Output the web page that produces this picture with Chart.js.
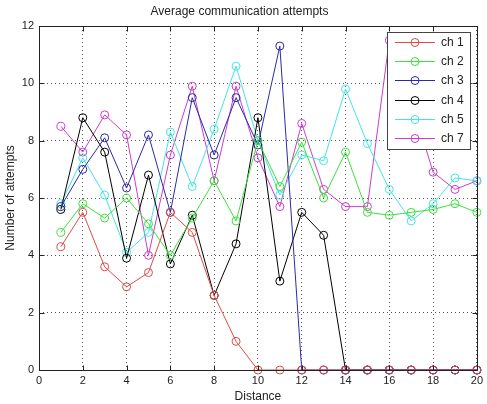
<!DOCTYPE html>
<html>
<head>
<meta charset="utf-8">
<script src="https://cdn.jsdelivr.net/npm/chart.js@4"></script>
<style>
  body { margin: 0; background: #fff; }
  canvas { display: block; }
</style>
</head>
<body>
<canvas id="chart" width="487" height="404"></canvas>
<script>
// values
const distance = [1, 2, 3, 4, 5, 6, 7, 8, 9, 10, 11, 12, 13, 14, 15, 16, 17, 18, 19, 20];
const ch1 = [4.3, 5.5, 3.6, 2.9, 3.4, 5.5, 4.8, 2.6, 1.0, 0, 0, 0, 0, 0, 0, 0, 0, 0, 0, 0];
const ch2 = [4.8, 5.8, 5.3, 6.0, 5.1, 4.0, 5.3, 6.6, 5.2, 8.0, 6.4, 7.95, 6.0, 7.6, 5.5, 5.4, 5.5, 5.6, 5.8, 5.5];
const ch3 = [5.7, 7.0, 8.1, 6.35, 8.2, 5.5, 9.5, 7.5, 9.5, 7.85, 11.3, 0, 0, 0, 0, 0, 0, 0, 0, 0];
const ch4 = [5.6, 8.8, 7.6, 3.9, 6.8, 3.7, 5.4, 2.6, 4.4, 8.8, 3.1, 5.5, 4.7, 0, 0, 0, 0, 0, 0, 0];
const ch5 = [5.8, 7.4, 6.1, 4.1, 4.8, 8.3, 6.4, 8.4, 10.6, 8.0, 6.1, 7.5, 7.3, 9.8, 7.9, 6.3, 5.2, 5.8, 6.7, 6.6];
const ch7 = [8.5, 7.6, 8.9, 8.2, 4.0, 7.5, 9.9, 6.6, 9.9, 7.4, 5.7, 8.6, 6.3, 5.7, 5.7, 11.5, 9.4, 6.9, 6.3, 6.6];

const seriesNames = ['ch 1', 'ch 2', 'ch 3', 'ch 4', 'ch 5', 'ch 7'];
const seriesValues = [ch1, ch2, ch3, ch4, ch5, ch7];
const seriesColors = ['#dd4a4a', '#3ee03e', '#2a2aa8', '#000000', '#44e4e4', '#cc3ccc'];

const xTicks = [0, 2, 4, 6, 8, 10, 12, 14, 16, 18, 20];
const yTicks = [0, 2, 4, 6, 8, 10, 12];

const FONT = '"Liberation Sans", Arial, sans-serif';

// frame with inward ticks + legend inside the plot (matlab style)
const matlabFrame = {
    id: 'matlabFrame',
    afterDatasetsDraw(chart) {
        const ctx = chart.ctx;
        const a = chart.chartArea;
        const x = chart.scales.x, y = chart.scales.y;
        const L = Math.round(a.left) + 0.5, R = Math.round(a.right) + 0.5;
        const T = Math.round(a.top) + 0.5, B = Math.round(a.bottom) + 0.5;
        ctx.save();
        ctx.strokeStyle = '#222';
        ctx.lineWidth = 1;
        ctx.strokeRect(L, T, R - L, B - T);
        ctx.beginPath();
        xTicks.forEach(v => {
            const px = Math.round(x.getPixelForValue(v)) + 0.5;
            ctx.moveTo(px, B); ctx.lineTo(px, B - 5);
            ctx.moveTo(px, T); ctx.lineTo(px, T + 5);
        });
        yTicks.forEach(v => {
            const py = Math.round(y.getPixelForValue(v)) + 0.5;
            ctx.moveTo(L, py); ctx.lineTo(L + 5, py);
            ctx.moveTo(R, py); ctx.lineTo(R - 5, py);
        });
        ctx.stroke();
        ctx.restore();
    },
    afterDraw(chart) {
        const ctx = chart.ctx;
        const box = { left: 387.5, top: 32.5, width: 83, height: 117 };
        ctx.save();
        ctx.fillStyle = '#fff';
        ctx.fillRect(box.left, box.top, box.width, box.height);
        ctx.strokeStyle = '#444';
        ctx.lineWidth = 1;
        ctx.strokeRect(box.left, box.top, box.width, box.height);
        ctx.font = '12px ' + FONT;
        ctx.textBaseline = 'middle';
        chart.data.datasets.forEach((ds, i) => {
            const rowY = Math.round(42 + i * 19.2) + 0.5;
            ctx.strokeStyle = ds.borderColor;
            ctx.beginPath();
            ctx.moveTo(395, rowY); ctx.lineTo(435, rowY);
            ctx.stroke();
            ctx.beginPath();
            ctx.arc(415, rowY, 4, 0, Math.PI * 2);
            ctx.stroke();
            ctx.fillStyle = '#222';
            ctx.fillText(ds.label, 441, rowY);
        });
        ctx.restore();
    }
};

const datasets = seriesNames.map((name, i) => ({
    label: name,
    data: distance.map((d, j) => ({ x: d, y: seriesValues[i][j] })),
    borderColor: seriesColors[i],
    backgroundColor: 'rgba(0,0,0,0)',
    pointBorderColor: seriesColors[i],
    pointBackgroundColor: 'rgba(0,0,0,0)',
    borderWidth: 1,
    pointRadius: 4,
    pointBorderWidth: 1,
    tension: 0,
    clip: false
}));

const ctx = document.getElementById('chart').getContext('2d');
new Chart(ctx, {
    type: 'line',
    data: { datasets: datasets },
    options: {
        responsive: false,
        animation: false,
        devicePixelRatio: 1,
        layout: { padding: { left: 0, right: 8, top: 0, bottom: 0 } },
        plugins: {
            legend: { display: false },
            tooltip: { enabled: false },
            title: {
                display: true,
                text: 'Average communication attempts',
                color: '#222',
                font: { family: FONT, size: 12, weight: 'normal' },
                padding: { top: 4, bottom: 7.6 }
            }
        },
        scales: {
            x: {
                type: 'linear',
                min: 0,
                max: 20,
                afterBuildTicks: s => { s.ticks = xTicks.map(v => ({ value: v })); },
                afterFit: s => { s.height = 34; },
                ticks: { color: '#222', font: { family: FONT, size: 11 }, padding: 4, maxRotation: 0 },
                grid: { color: '#555', drawTicks: false },
                border: { display: false, dash: [1, 3] },
                title: {
                    display: true,
                    text: 'Distance',
                    color: '#222',
                    font: { family: FONT, size: 12 },
                    padding: { top: 0, bottom: 0 }
                }
            },
            y: {
                min: 0,
                max: 12,
                afterBuildTicks: s => { s.ticks = yTicks.map(v => ({ value: v })); },
                afterFit: s => { s.width = 39; },
                ticks: { color: '#222', font: { family: FONT, size: 11 }, padding: 5 },
                grid: { color: '#555', drawTicks: false },
                border: { display: false, dash: [1, 3] },
                title: {
                    display: true,
                    text: 'Number of attempts',
                    color: '#222',
                    font: { family: FONT, size: 12 },
                    padding: { top: 3, bottom: 0 }
                }
            }
        }
    },
    plugins: [matlabFrame]
});
</script>
</body>
</html>
